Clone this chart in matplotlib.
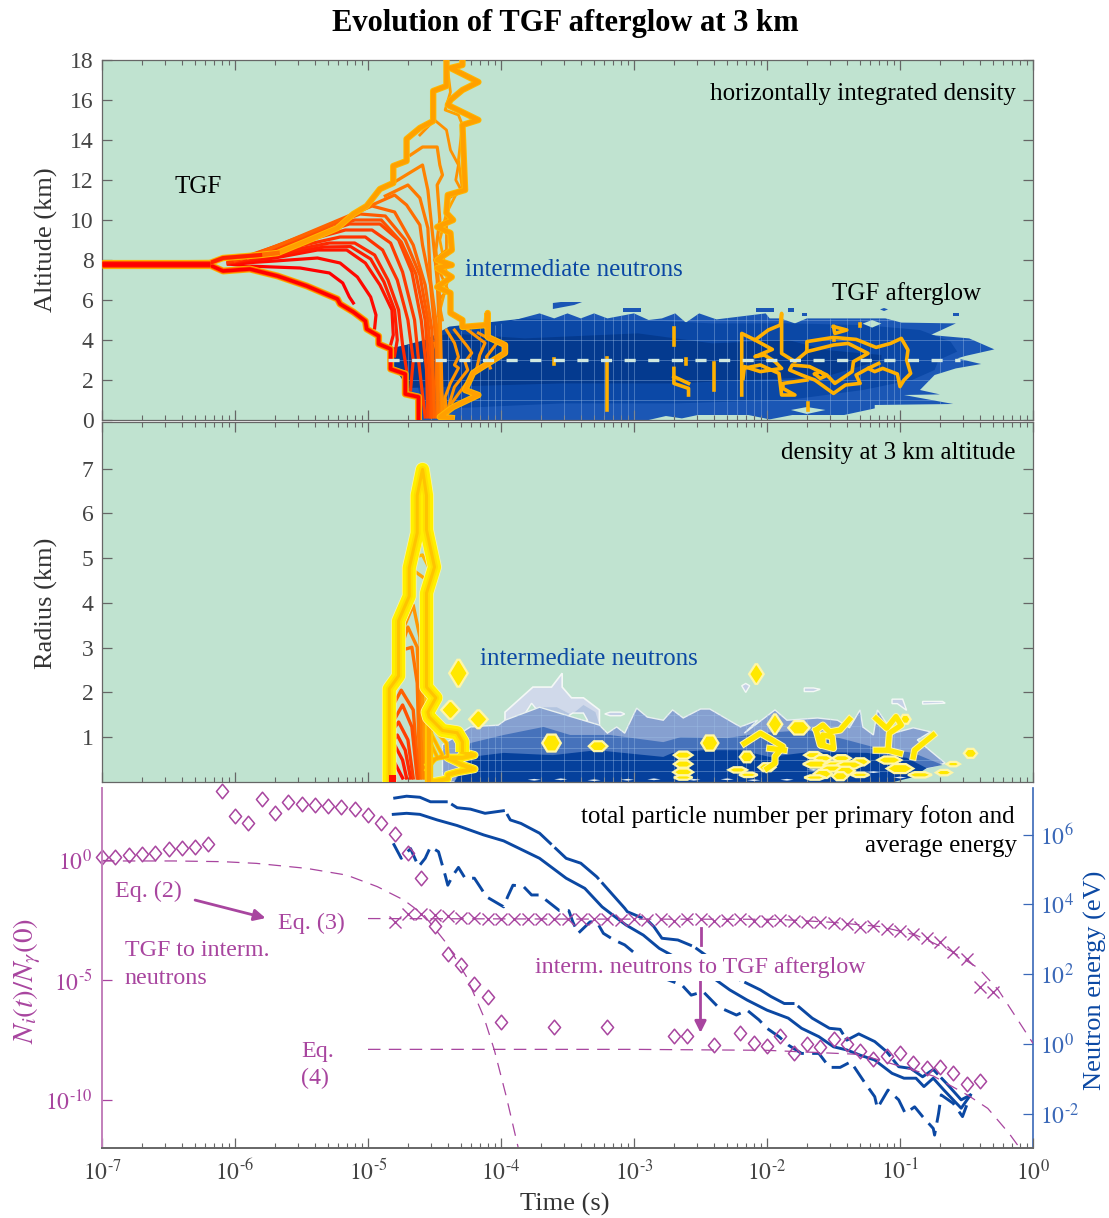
import numpy as np
import matplotlib
matplotlib.use('Agg')
import matplotlib.pyplot as plt
from matplotlib.path import Path
from matplotlib.ticker import LogLocator, NullFormatter, FixedLocator, FixedFormatter

plt.rcParams['font.family'] = ['Liberation Serif', 'DejaVu Serif']
plt.rcParams['mathtext.fontset'] = 'stix'
plt.rcParams['lines.scale_dashes'] = False

# all time values are log10(t / s), energies and numbers in the bottom panel too

# ---- top panel: horizontally integrated density
env_upper = [(-7.0, 7.8), (-6.19, 7.85), (-6.09, 8.1), (-5.81, 8.25), (-5.68, 8.35), (-5.46, 8.95), (-5.23, 9.6),
             (-5.11, 10.3), (-5.01, 10.7), (-4.91, 11.55), (-4.81, 11.85), (-4.81, 12.7), (-4.71, 12.95),
             (-4.71, 14.05), (-4.61, 14.6), (-4.51, 14.95), (-4.51, 16.45), (-4.41, 16.7), (-4.41, 18.0)]
env_right = [(-4.29, 18.0), (-4.29, 17.75), (-4.38, 17.6), (-4.17, 16.9), (-4.29, 16.5), (-4.38, 16.0), (-4.40, 15.75),
             (-4.17, 15.0), (-4.29, 14.75), (-4.27, 11.5), (-4.40, 11.25), (-4.41, 10.35), (-4.36, 10.0), (-4.48, 9.65),
             (-4.38, 9.35), (-4.37, 8.5), (-4.48, 8.0), (-4.37, 7.75), (-4.48, 7.6), (-4.37, 7.15), (-4.48, 6.65),
             (-4.38, 6.35), (-4.38, 5.35), (-4.29, 5.0), (-4.29, 4.65), (-4.11, 4.75), (-4.10, 5.35), (-4.10, 4.15),
             (-3.97, 3.75), (-3.97, 3.35), (-4.14, 2.65), (-4.21, 2.35), (-4.27, 1.5), (-4.17, 1.25), (-4.36, 0.65),
             (-4.46, 0.15), (-4.37, 0.1)]
env_lower = [(-7.0, 7.8), (-6.19, 7.75), (-6.09, 7.45), (-5.89, 7.55), (-5.68, 7.2), (-5.46, 6.7), (-5.23, 6.05),
             (-5.21, 5.8), (-5.11, 5.4), (-5.02, 4.95), (-5.01, 4.55), (-4.92, 4.2), (-4.92, 3.8), (-4.83, 3.55),
             (-4.83, 2.55), (-4.72, 2.3), (-4.72, 1.3), (-4.62, 1.15), (-4.62, 0.0)]
fan_lines = [
    [(-6.05, 7.8), (-5.91, 7.7), (-5.51, 7.6), (-5.29, 7.35), (-5.19, 6.85), (-5.14, 6.15), (-5.11, 5.85)],
    [(-6.05, 7.8), (-5.7, 7.95), (-5.38, 8.1), (-5.21, 7.85), (-5.08, 7.15), (-4.98, 6.15), (-4.94, 5.25), (-4.95, 4.6)],
    [(-6.05, 7.85), (-5.7, 8.1), (-5.38, 8.5), (-5.16, 8.5), (-5.02, 7.85), (-4.91, 6.75), (-4.82, 5.5), (-4.81, 4.25), (-4.83, 3.75)],
    [(-6.05, 7.85), (-5.33, 8.65), (-5.13, 8.67), (-4.98, 8.05), (-4.88, 6.9), (-4.80, 5.5), (-4.78, 4.0), (-4.80, 3.2)],
    [(-6.05, 7.85), (-5.29, 8.85), (-5.10, 8.85), (-4.95, 8.25), (-4.85, 7.0), (-4.77, 5.5), (-4.74, 3.75), (-4.71, 2.5), (-4.72, 1.4)],
    [(-6.05, 7.9), (-5.21, 9.15), (-5.02, 9.15), (-4.89, 8.5), (-4.78, 7.0), (-4.70, 5.0), (-4.66, 3.0), (-4.68, 1.5)],
    [(-6.05, 7.9), (-5.17, 9.5), (-4.97, 9.5), (-4.83, 8.85), (-4.74, 7.4), (-4.65, 5.0), (-4.62, 3.0), (-4.59, 1.25), (-4.57, 0.15)],
    [(-6.0, 7.95), (-5.14, 9.8), (-4.91, 9.8), (-4.77, 9.0), (-4.67, 7.4), (-4.60, 5.0), (-4.56, 2.5), (-4.55, 0.15)],
    [(-6.0, 8.0), (-5.1, 10.0), (-4.9, 10.0), (-4.75, 8.9), (-4.64, 7.3), (-4.57, 5.0), (-4.54, 2.5), (-4.53, 0.15)],
    [(-5.95, 8.05), (-5.06, 10.3), (-4.87, 10.2), (-4.72, 9.0), (-4.61, 7.25), (-4.55, 5.0), (-4.52, 2.5), (-4.52, 0.15)],
    [(-5.9, 8.1), (-4.97, 10.7), (-4.80, 10.4), (-4.66, 8.75), (-4.57, 6.75), (-4.52, 4.5), (-4.50, 0.15)],
    [(-5.02, 10.6), (-4.80, 11.25), (-4.71, 10.75), (-4.61, 9.75), (-4.59, 8.75), (-4.53, 6.75), (-4.49, 4.0), (-4.48, 0.15)],
    [(-4.87, 11.2), (-4.70, 11.75), (-4.61, 11.1), (-4.55, 9.6), (-4.53, 7.0), (-4.48, 4.5), (-4.47, 0.15)],
    [(-4.80, 11.9), (-4.59, 12.75), (-4.55, 11.5), (-4.51, 9.0), (-4.48, 7.0), (-4.46, 4.0), (-4.45, 0.15)],
    [(-4.68, 13.25), (-4.59, 13.65), (-4.48, 13.65), (-4.46, 12.75), (-4.44, 12.25), (-4.48, 11.75), (-4.46, 10.0), (-4.49, 8.5), (-4.46, 6.0), (-4.44, 0.15)],
]
squiggle_a = [(-4.61, 14.25), (-4.50, 15.0), (-4.41, 14.5), (-4.38, 13.5), (-4.32, 12.75), (-4.34, 12.0), (-4.30, 11.5),
              (-4.41, 11.0), (-4.41, 8.5), (-4.50, 8.0), (-4.40, 6.5), (-4.47, 6.0), (-4.44, 5.0)]
squiggle_b = [(-4.41, 18.0), (-4.38, 16.4), (-4.42, 15.5), (-4.32, 15.25), (-4.29, 14.75), (-4.32, 13.0), (-4.29, 11.5),
              (-4.34, 11.25), (-4.41, 10.35), (-4.46, 9.0), (-4.40, 7.0), (-4.47, 5.2)]
right_lines = [
    [(-4.50, 3.85), (-4.46, 3.0), (-4.47, 2.5), (-4.46, 1.85), (-4.42, 0.25)],
    [(-4.41, 4.5), (-4.35, 3.85), (-4.32, 3.15), (-4.35, 2.75), (-4.32, 2.6), (-4.38, 1.85), (-4.42, 1.15), (-4.41, 0.35)],
    [(-4.35, 4.5), (-4.25, 3.65), (-4.22, 3.35), (-4.27, 2.9), (-4.25, 2.5), (-4.35, 1.65), (-4.38, 1.0), (-4.41, 0.25)],
    [(-4.25, 4.5), (-4.12, 3.85), (-4.16, 3.25), (-4.18, 2.65), (-4.20, 2.35), (-4.31, 1.4), (-4.37, 0.85)],
    [(-4.17, 4.35), (-4.03, 3.85), (-4.11, 3.15), (-4.08, 2.6)],
]
blue_outer = [(-4.83, 3.6), (-4.55, 3.95), (-4.35, 4.4), (-4.07, 4.67), (-3.94, 4.92), (-3.71, 5.33), (-3.60, 5.08), (-3.50, 5.33),
              (-3.40, 5.08), (-3.30, 5.33), (-3.20, 5.08), (-3.0, 5.33), (-2.89, 5.0), (-2.79, 5.08), (-2.69, 5.33),
              (-2.61, 4.87), (-2.51, 5.33), (-2.38, 5.03), (-2.01, 5.33), (-1.98, 5.08), (-1.90, 5.08), (-1.79, 4.83),
              (-1.70, 5.08), (-1.56, 5.08), (-1.11, 5.08), (-0.99, 4.87), (-0.58, 4.83), (-0.77, 4.25), (-0.48, 4.08),
              (-0.29, 3.53), (-0.51, 3.2), (-0.57, 3.08), (-0.39, 2.8), (-0.58, 2.58), (-0.74, 2.25), (-0.85, 1.5),
              (-0.70, 1.28), (-0.97, 1.25), (-0.60, 0.8), (-1.19, 0.75), (-1.19, 0.58), (-1.42, 0.25), (-1.81, 0.25),
              (-1.98, 0.03), (-2.14, 0.25), (-2.52, 0.25), (-2.64, 0.08), (-2.76, 0.2), (-2.89, 0.0), (-4.62, 0.0), (-4.62, 1.15),
              (-4.72, 1.3), (-4.72, 2.3), (-4.83, 2.55)]
blue_mid = [(-4.39, 4.67), (-3.82, 5.08), (-3.54, 5.0), (-2.97, 5.0), (-2.41, 4.83), (-1.84, 4.83), (-1.28, 4.75), (-0.85, 4.5),
            (-0.62, 3.92), (-0.57, 3.42), (-0.71, 3.0), (-0.74, 2.5), (-0.91, 2.0), (-1.28, 1.5), (-1.84, 1.0), (-2.69, 0.83),
            (-3.54, 0.83), (-4.39, 0.58), (-4.6, 1.0), (-4.7, 3.5)]
blue_dark = [(-4.39, 4.33), (-3.82, 4.08), (-2.97, 4.33), (-2.41, 3.83), (-1.84, 4.0), (-1.56, 3.5), (-1.14, 3.25), (-1.14, 3.0),
             (-1.56, 2.17), (-2.13, 2.0), (-2.69, 1.83), (-3.54, 1.83), (-4.39, 1.67), (-4.7, 1.6), (-4.8, 2.6), (-4.8, 3.6)]
green_holes = [[(-1.28, 4.82), (-1.21, 5.0), (-1.14, 4.82), (-1.21, 4.62)],
               [(-1.82, 0.5), (-1.70, 0.65), (-1.56, 0.5), (-1.70, 0.3)]]
blue_islands = [[(-3.61, 5.85), (-3.55, 5.9), (-3.39, 5.9), (-3.45, 5.75), (-3.61, 5.55)],
                [(-3.08, 5.6), (-2.95, 5.6), (-2.95, 5.4), (-3.08, 5.4)],
                [(-2.08, 5.6), (-1.95, 5.6), (-1.95, 5.4), (-2.08, 5.4)],
                [(-1.15, 5.53), (-1.12, 5.6), (-1.09, 5.53), (-1.12, 5.45)],
                [(-1.84, 5.6), (-1.80, 5.6), (-1.80, 5.42), (-1.84, 5.42)],
                [(-1.74, 5.35), (-1.70, 5.35), (-1.70, 5.2), (-1.74, 5.2)],
                [(-0.60, 5.35), (-0.56, 5.35), (-0.56, 5.2), (-0.60, 5.2)]]
glow_lines = [
    [(-2.19, 1.25), (-2.19, 4.33), (-2.09, 4.0), (-1.99, 4.5), (-1.90, 4.75), (-1.89, 5.33), (-1.89, 3.33), (-1.79, 2.92), (-1.70, 3.42),
     (-1.70, 3.92), (-1.50, 4.13), (-1.33, 4.03), (-1.18, 3.63), (-1.07, 3.83), (-0.99, 4.08), (-0.94, 3.5), (-0.95, 3.0), (-0.92, 2.33),
     (-0.97, 2.0), (-1.00, 1.67), (-1.02, 2.3), (-1.13, 2.58), (-1.19, 2.42), (-1.24, 2.58), (-1.16, 2.83)],
    [(-1.70, 3.42), (-1.50, 3.75), (-1.39, 3.83), (-1.24, 3.33), (-1.35, 2.92), (-1.36, 2.42), (-1.49, 1.83), (-1.55, 2.25), (-1.68, 2.67),
     (-1.81, 2.75), (-1.83, 2.5), (-1.74, 2.25), (-1.64, 2.0), (-1.50, 1.33), (-1.41, 1.75), (-1.30, 1.83), (-1.33, 2.25), (-1.24, 2.58)],
    [(-2.09, 4.0), (-1.96, 3.53), (-2.09, 3.17), (-2.02, 3.25), (-1.94, 2.92), (-1.89, 2.58), (-2.05, 2.42), (-2.17, 2.67), (-2.18, 2.08)],
    [(-2.18, 2.58), (-2.05, 2.75), (-1.91, 2.33), (-1.89, 1.25), (-1.79, 1.25), (-1.88, 1.58), (-1.88, 1.83), (-1.70, 2.0)],
    [(-1.50, 4.67), (-1.40, 4.5), (-1.49, 4.33), (-1.50, 4.67)],
    [(-1.64, 2.3), (-1.60, 2.42), (-1.56, 2.2), (-1.60, 2.08), (-1.64, 2.3)],
    [(-3.20, 3.08), (-3.20, 0.5)],
    [(-2.70, 4.58), (-2.70, 3.75)],
    [(-3.60, 3.05), (-3.60, 2.8)],
    [(-2.61, 3.05), (-2.61, 2.8)],
    [(-2.70, 2.58), (-2.70, 1.83), (-2.59, 1.58), (-2.59, 1.25)],
    [(-2.70, 2.17), (-2.59, 1.83)],
    [(-2.40, 2.83), (-2.40, 1.5)],
    [(-1.69, 0.83), (-1.69, 0.5)],
    [(-1.30, 4.8), (-1.30, 4.7)],
    [(-1.50, 4.08), (-1.50, 3.98)],
]

# ---- middle panel: density at 3 km altitude
spike_outline = [(-4.84, 0.0), (-4.84, 2.08), (-4.77, 2.37), (-4.77, 3.6), (-4.69, 4.15), (-4.69, 4.78), (-4.63, 5.56), (-4.63, 6.4),
                 (-4.59, 6.98), (-4.56, 6.4), (-4.56, 5.63), (-4.50, 4.80), (-4.56, 4.22), (-4.56, 2.12), (-4.49, 1.88), (-4.55, 1.56),
                 (-4.54, 1.45), (-4.44, 1.15), (-4.33, 1.1), (-4.29, 0.9), (-4.29, 0.67)]
spike_tail = [(-4.29, 0.67), (-4.20, 0.60), (-4.29, 0.54), (-4.40, 0.54), (-4.29, 0.38), (-4.20, 0.29), (-4.33, 0.22), (-4.40, 0.16),
              (-4.40, 0.07), (-4.53, 0.0)]
spike_right_band = [(-4.54, 2.1), (-4.54, 0.0)]
spike_arcs = [
    [(-4.72, 4.17), (-4.66, 4.84), (-4.59, 5.44), (-4.53, 4.84), (-4.59, 4.22), (-4.59, 3.46), (-4.59, 2.05), (-4.56, 0.09)],
    [(-4.66, 5.02), (-4.59, 5.07), (-4.55, 4.84)],
    [(-4.66, 4.73), (-4.59, 4.58)],
    [(-4.74, 2.5), (-4.74, 3.39), (-4.66, 3.95), (-4.61, 3.24), (-4.59, 2.05), (-4.57, 0.09)],
    [(-4.74, 3.10), (-4.70, 3.46), (-4.63, 3.01), (-4.61, 1.83), (-4.59, 0.09)],
    [(-4.74, 2.95), (-4.67, 3.01), (-4.63, 2.21), (-4.61, 0.09)],
    [(-4.85, 0.09), (-4.83, 1.61), (-4.75, 2.05), (-4.66, 1.61), (-4.62, 0.09)],
    [(-4.84, 0.09), (-4.82, 1.3), (-4.74, 1.72), (-4.67, 1.23), (-4.63, 0.09)],
    [(-4.82, 0.09), (-4.83, 1.09), (-4.77, 1.34), (-4.70, 0.94), (-4.66, 0.09)],
    [(-4.81, 0.09), (-4.82, 0.87), (-4.78, 1.05), (-4.72, 0.71), (-4.68, 0.09)],
    [(-4.81, 0.09), (-4.80, 0.83), (-4.74, 0.49), (-4.71, 0.09)],
    [(-4.80, 0.09), (-4.81, 0.49), (-4.74, 0.09)],
]
spike_fingers = [[(-4.52, 1.23), (-4.41, 0.87), (-4.40, 0.56), (-4.55, 0.49)],
                 [(-4.52, 1.05), (-4.47, 0.76), (-4.44, 0.6), (-4.56, 0.38)],
                 [(-4.53, 0.87), (-4.48, 0.56), (-4.56, 0.27)]]
layer_c = [(-4.44, 0.0), (-4.44, 0.83), (-4.23, 1.23), (-4.02, 1.27), (-3.97, 1.38), (-3.71, 1.67), (-3.26, 1.27), (-3.20, 1.09), (-3.13, 1.23),
           (-3.07, 1.09), (-2.98, 1.65), (-2.90, 1.45), (-2.78, 1.38), (-2.71, 1.61), (-2.63, 1.43), (-2.50, 1.63), (-2.43, 1.63),
           (-2.20, 1.23), (-2.07, 1.38), (-2.17, 1.09), (-1.94, 1.61), (-1.85, 1.38), (-1.62, 1.43), (-1.47, 1.38), (-1.38, 1.21),
           (-1.30, 1.61), (-1.28, 1.23), (-1.20, 1.05), (-1.17, 1.61), (-1.05, 1.09), (-0.90, 1.21), (-0.77, 1.12), (-0.87, 0.94),
           (-0.66, 0.42), (-0.80, 0.31), (-1.05, 0.09), (-1.05, 0.0)]
layer_a = [(-3.97, 1.38), (-3.97, 1.56), (-3.76, 2.12), (-3.62, 2.12), (-3.54, 2.43), (-3.54, 2.12), (-3.47, 1.88), (-3.38, 1.88), (-3.26, 1.61),
           (-3.26, 1.27), (-3.4, 1.3), (-3.7, 1.3)]
layer_b = [(-3.97, 1.38), (-3.71, 1.67), (-3.58, 1.67), (-3.47, 1.5), (-3.38, 1.72), (-3.29, 1.56), (-3.26, 1.27), (-3.7, 1.2)]
layer_d = [(-4.35, 0.0), (-4.23, 0.87), (-3.98, 1.05), (-3.68, 1.23), (-3.48, 1.05), (-3.18, 1.05), (-2.78, 0.89), (-2.65, 1.0), (-2.30, 0.98),
           (-2.05, 1.09), (-1.70, 1.16), (-1.40, 0.94), (-1.20, 0.78), (-0.90, 0.65), (-0.68, 0.38), (-0.80, 0.31), (-1.05, 0.09), (-1.05, 0.0)]
layer_e = [(-4.35, 0.0), (-4.23, 0.56), (-3.98, 0.65), (-3.61, 0.60), (-3.28, 0.71), (-2.78, 0.56), (-2.71, 0.65), (-2.48, 0.71), (-2.20, 0.71),
           (-1.98, 0.56), (-1.68, 0.67), (-1.25, 0.65), (-0.95, 0.54), (-0.80, 0.31), (-0.90, 0.11), (-1.05, 0.0)]
layer_holes = [[(-3.87, 1.29), (-3.77, 1.76), (-3.71, 1.54), (-3.80, 1.27)],
               [(-3.52, 1.43), (-3.46, 1.54), (-3.38, 1.54), (-3.35, 1.38), (-3.41, 1.27), (-3.48, 1.27)]]
layer_islands = [[(-3.22, 1.52), (-3.18, 1.48), (-3.10, 1.48), (-3.07, 1.52), (-3.10, 1.56), (-3.18, 1.56)],
                 [(-2.19, 2.15), (-2.16, 2.2), (-2.13, 2.15), (-2.16, 2.0)],
                 [(-1.72, 2.1), (-1.65, 2.1), (-1.60, 2.07), (-1.65, 2.02), (-1.72, 2.02)],
                 [(-1.06, 1.85), (-0.98, 1.85), (-0.95, 1.6), (-1.02, 1.75), (-1.06, 1.75)],
                 [(-0.83, 1.8), (-0.68, 1.8), (-0.66, 1.76), (-0.83, 1.74)]]
streak_t = [-3.75, -3.55, -3.3, -3.05, -2.85, -2.55, -2.3, -2.1, -1.85, -1.65, -1.2, -1.0, -0.85]
streak_r = [0.05, 0.06, 0.04, 0.05, 0.06, 0.05, 0.06, 0.04, 0.05, 0.27, 0.22, 0.1, 0.18]
blob_t = [-4.32, -4.38, -4.17, -3.62, -3.27, -2.08, -2.43, -2.63, -2.63, -2.63, -2.63, -2.22, -2.14, -2.15, -2.0, -1.94, -1.76,
          -1.65, -1.58, -1.44, -1.30, -1.63, -1.48, -1.38, -1.51, -1.41, -1.45, -1.58, -1.64, -1.08, -1.0, -0.85, -0.67, -0.60,
          -0.47, -1.30, -0.96]
blob_r = [2.43, 1.61, 1.40, 0.87, 0.80, 2.41, 0.87, 0.60, 0.40, 0.22, 0.10, 0.27, 0.16, 0.56, 0.33, 1.29, 1.21,
          0.60, 0.53, 0.53, 0.45, 0.40, 0.38, 0.38, 0.30, 0.25, 0.13, 0.18, 0.10, 0.49, 0.30, 0.16, 0.21, 0.40,
          0.64, 0.16, 1.4]
blob_dt = [0.07, 0.07, 0.07, 0.07, 0.07, 0.055, 0.065, 0.07, 0.07, 0.075, 0.07, 0.07, 0.07, 0.055, 0.065, 0.055, 0.08,
           0.07, 0.07, 0.07, 0.07, 0.10, 0.10, 0.10, 0.09, 0.07, 0.06, 0.07, 0.08, 0.09, 0.10, 0.09, 0.06, 0.05,
           0.05, 0.07, 0.04]
blob_dr = [0.30, 0.20, 0.20, 0.19, 0.11, 0.22, 0.17, 0.08, 0.08, 0.08, 0.05, 0.06, 0.05, 0.12, 0.09, 0.22, 0.15,
           0.07, 0.07, 0.07, 0.08, 0.08, 0.08, 0.08, 0.07, 0.09, 0.09, 0.09, 0.05, 0.08, 0.10, 0.06, 0.06, 0.05,
           0.10, 0.05, 0.1]
yellow_paths = [
    [(-2.17, 0.86), (-2.05, 1.09), (-1.98, 0.97), (-1.88, 0.79), (-1.94, 0.57), (-1.94, 0.42), (-2.0, 0.30)],
    [(-1.98, 0.75), (-1.87, 0.71)],
    [(-1.63, 1.16), (-1.58, 1.27), (-1.53, 1.12), (-1.45, 1.16), (-1.38, 1.40)],
    [(-1.63, 1.16), (-1.60, 0.83), (-1.50, 0.75), (-1.51, 1.01), (-1.58, 1.05), (-1.58, 0.83)],
    [(-1.18, 1.42), (-1.10, 1.2), (-1.03, 1.46), (-0.99, 1.27), (-1.08, 1.09), (-1.09, 0.71), (-1.18, 0.71)],
    [(-1.09, 0.71), (-1.0, 0.64)],
    [(-0.75, 1.05), (-0.89, 0.71), (-0.90, 0.56)],
]

# ---- bottom panel: particle number and neutron energy
diamond_t = [-7.0, -6.9, -6.8, -6.7, -6.6, -6.5, -6.4, -6.3, -6.2, -6.1, -6.0, -5.9, -5.8, -5.7, -5.6, -5.5, -5.4, -5.3, -5.2, -5.1,
             -5.0, -4.9, -4.8, -4.7, -4.6, -4.5, -4.4, -4.3, -4.2, -4.1, -4.0, -3.6, -3.2, -2.7, -2.6, -2.4, -2.2, -2.1, -2.0, -1.9,
             -1.8, -1.7, -1.6, -1.5, -1.4, -1.3, -1.2, -1.1, -1.0, -0.9, -0.8, -0.7, -0.6, -0.5, -0.4]
diamond_n = [0.11, 0.11, 0.19, 0.25, 0.31, 0.44, 0.49, 0.56, 0.65, 2.88, 1.83, 1.53, 2.54, 1.94, 2.42, 2.35, 2.29, 2.25, 2.22, 2.11,
             1.89, 1.53, 1.07, 0.31, -0.75, -2.75, -3.92, -4.39, -5.15, -5.69, -6.75, -6.97, -6.97, -7.33, -7.33, -7.69, -7.19, -7.64,
             -7.75, -7.33, -8.03, -7.67, -7.81, -7.46, -7.67, -7.96, -8.31, -8.15, -8.03, -8.47, -8.65, -8.61, -8.86, -9.33, -9.20]
cross_t = [-4.8, -4.7, -4.6, -4.5, -4.4, -4.3, -4.2, -4.1, -4.0, -3.9, -3.8, -3.7, -3.6, -3.5, -3.4, -3.3, -3.2, -3.1, -3.0, -2.9, -2.8,
           -2.7, -2.6, -2.5, -2.4, -2.3, -2.2, -2.1, -2.0, -1.9, -1.8, -1.7, -1.6, -1.5, -1.4, -1.3, -1.2, -1.1, -1.0, -0.9, -0.8, -0.7,
           -0.6, -0.5, -0.4, -0.3]
cross_n = [-2.57, -2.26, -2.26, -2.29, -2.33, -2.40, -2.40, -2.46, -2.46, -2.46, -2.46, -2.46, -2.46, -2.46, -2.46, -2.46, -2.46, -2.50,
           -2.46, -2.50, -2.46, -2.53, -2.46, -2.46, -2.53, -2.50, -2.46, -2.53, -2.53, -2.50, -2.53, -2.57, -2.57, -2.61, -2.68, -2.81,
           -2.74, -2.88, -2.96, -3.10, -3.25, -3.43, -3.85, -4.14, -5.28, -5.49]
eq2_curve = [(-7.0, -0.04), (-6.46, -0.04), (-6.09, -0.07), (-5.84, -0.14), (-5.46, -0.35), (-5.16, -0.63), (-4.93, -1.11), (-4.73, -1.67),
             (-4.58, -2.29), (-4.41, -3.47), (-4.26, -4.86), (-4.13, -6.53), (-4.05, -7.92), (-3.96, -9.86), (-3.87, -12.0)]
eq3_curve = [(-5.0, -2.44), (-3.5, -2.46), (-1.92, -2.47), (-1.50, -2.6), (-1.14, -2.78), (-0.88, -3.13), (-0.62, -3.78), (-0.41, -4.51),
             (-0.26, -5.42), (-0.13, -6.53), (0.0, -7.64)]
eq4_curve = [(-5.0, -7.89), (-3.0, -7.89), (-2.0, -7.93), (-1.3, -8.1), (-0.75, -9.0), (-0.49, -9.8), (-0.34, -10.35), (-0.18, -11.39), (-0.10, -12.0)]
energy_upper = [(-4.81, 7.04), (-4.71, 7.10), (-4.61, 7.07), (-4.53, 6.94), (-4.40, 6.94), (-4.33, 6.77), (-4.23, 6.73), (-4.12, 6.61),
                (-3.97, 6.69), (-3.93, 6.42), (-3.85, 6.32), (-3.71, 6.04), (-3.51, 5.32), (-3.40, 5.18), (-3.28, 4.79), (-3.07, 3.89),
                (-3.05, 3.79), (-2.90, 3.55), (-2.85, 3.36), (-2.79, 3.03), (-2.67, 2.98), (-2.55, 2.79), (-2.20, 1.83), (-2.05, 1.55),
                (-1.97, 1.36), (-1.87, 1.16), (-1.79, 1.16), (-1.66, 0.74), (-1.53, 0.45), (-1.45, 0.42), (-1.40, 0.11), (-1.31, 0.29),
                (-1.19, 0.07), (-1.10, -0.22), (-1.01, -0.65), (-0.92, -0.70), (-0.83, -0.94), (-0.75, -0.73), (-0.65, -1.13),
                (-0.54, -1.60), (-0.47, -1.46)]
energy_mean = [(-4.81, 6.58), (-4.71, 6.61), (-4.61, 6.58), (-4.48, 6.42), (-4.33, 6.26), (-4.13, 5.99), (-3.98, 5.82), (-3.71, 5.32),
               (-3.51, 4.75), (-3.37, 4.46), (-3.24, 3.93), (-3.11, 3.55), (-3.06, 3.41), (-2.93, 3.12), (-2.81, 2.74), (-2.40, 1.88),
               (-2.28, 1.55), (-2.15, 1.26), (-2.0, 0.97), (-1.84, 0.74), (-1.74, 0.45), (-1.61, 0.21), (-1.50, -0.08), (-1.40, -0.17),
               (-1.30, -0.32), (-1.19, -0.46), (-1.06, -0.84), (-0.97, -0.98), (-0.88, -0.98), (-0.82, -1.22), (-0.75, -0.98),
               (-0.67, -1.32), (-0.54, -1.84), (-0.47, -1.46)]
energy_lower = [(-4.81, 5.75), (-4.75, 5.32), (-4.68, 5.60), (-4.62, 5.08), (-4.57, 5.32), (-4.53, 5.65), (-4.47, 5.51), (-4.42, 4.84),
                (-4.40, 4.55), (-4.36, 4.84), (-4.32, 5.06), (-4.27, 4.75), (-4.20, 4.75), (-4.15, 4.46), (-4.11, 4.22), (-3.98, 3.93),
                (-3.95, 4.22), (-3.91, 4.55), (-3.83, 4.51), (-3.77, 4.27), (-3.71, 4.27), (-3.56, 3.82), (-3.49, 3.82), (-3.46, 3.50),
                (-3.42, 3.17), (-3.33, 3.50), (-3.28, 3.50), (-3.23, 3.17), (-3.15, 2.98), (-3.07, 2.84), (-2.76, 1.86), (-2.64, 1.69),
                (-2.57, 1.40), (-2.48, 1.50), (-2.37, 1.07), (-2.23, 0.83), (-2.15, 0.97), (-2.06, 0.69), (-2.0, 0.45), (-1.91, 0.21),
                (-1.84, -0.03), (-1.74, -0.27), (-1.61, -0.27), (-1.53, -0.67), (-1.45, -0.67), (-1.37, -0.51), (-1.27, -1.08),
                (-1.19, -1.51), (-1.17, -1.84), (-1.09, -1.32), (-1.01, -1.60), (-0.96, -1.99), (-0.89, -1.80), (-0.83, -2.08),
                (-0.75, -2.42), (-0.74, -2.61), (-0.71, -1.99), (-0.69, -1.46), (-0.60, -1.70), (-0.53, -2.08), (-0.47, -1.46)]

time_ticks = [1e-7, 1e-6, 1e-5, 1e-4, 1e-3, 1e-2, 1e-1, 1e0]
time_labels = [r'$10^{\text{-}7}$', r'$10^{\text{-}6}$', r'$10^{\text{-}5}$', r'$10^{\text{-}4}$', r'$10^{\text{-}3}$',
               r'$10^{\text{-}2}$', r'$10^{\text{-}1}$', '$10^{0}$']
alt_ticks = [0, 2, 4, 6, 8, 10, 12, 14, 16, 18]
radius_ticks = [1, 2, 3, 4, 5, 6, 7]

BG = '#c0e3d0'
MAG = '#a8459f'
BLUE = '#0b48a3'
TICKBLUE = '#3a68b8'
GREY = '#666666'
W, H = 1109.0, 1218.0


def xy(points):
    a = np.array(points, dtype=float)
    return 10 ** a[:, 0], a[:, 1]


def line(ax, points, **kw):
    x, y = xy(points)
    kw.setdefault('solid_joinstyle', 'round')
    return ax.plot(x, y, **kw)


def fill(ax, points, color, **kw):
    x, y = xy(points)
    return ax.fill(x, y, color=color, lw=kw.pop('lw', 0), **kw)[0]


def panel_axes(top, bottom):
    ax = fig.add_axes([102 / W, 1 - bottom / H, 931 / W, (bottom - top) / H])
    ax.set_xscale('log')
    ax.set_xlim(1e-7, 1)
    ax.xaxis.set_major_locator(FixedLocator(time_ticks))
    ax.xaxis.set_minor_locator(LogLocator(base=10, subs=np.arange(2, 10), numticks=12))
    ax.xaxis.set_minor_formatter(NullFormatter())
    ax.tick_params(axis='x', which='major', direction='in', length=7.5, width=0.9, color=GREY)
    ax.tick_params(axis='x', which='minor', direction='in', length=3.8, width=0.8, color=GREY)
    ax.tick_params(axis='y', which='major', direction='in', length=7.5, width=0.9, color=GREY,
                   labelcolor='#444444', labelsize=17, pad=6)
    for s in ax.spines.values():
        s.set_color(GREY)
        s.set_linewidth(0.9)
    return ax


def grid_over(ax, patch, y_step, y_max):
    decades = np.arange(-5, 0)
    for d in decades:
        for m in range(1, 10):
            v = ax.axvline(m * 10.0 ** d, color='#9fc0e6', lw=0.6, alpha=0.45, zorder=2)
            v.set_clip_path(patch)
    for y in np.arange(y_step, y_max, y_step):
        h = ax.axhline(y, color='#9fc0e6', lw=0.6, alpha=0.45, zorder=2)
        h.set_clip_path(patch)


fig = plt.figure(figsize=(W / 100, H / 100), dpi=100)
fig.text(565 / W, 1 - 23 / H, 'Evolution of TGF afterglow at 3 km', ha='center', va='center',
         fontsize=22, fontweight='bold', color='black')

# top panel
ax1 = panel_axes(60, 420)
ax1.set_facecolor(BG)
ax1.set_ylim(0, 18)
ax1.set_yticks(alt_ticks)
ax1.tick_params(axis='both', which='both', top=True, right=True, labelbottom=False)

p_outer = fill(ax1, blue_outer, '#1b57b5', zorder=1)
fill(ax1, blue_mid, '#0b48a6', zorder=1.1)
fill(ax1, blue_dark, '#043a8f', zorder=1.2)
for hole in green_holes:
    fill(ax1, hole, BG, zorder=1.3)
for island in blue_islands:
    fill(ax1, island, '#1b57b5', zorder=1.3)
grid_over(ax1, p_outer, 1.0, 6)

for pts in glow_lines:
    line(ax1, pts, color='#ffb000', lw=2.6, zorder=3)
ax1.plot(10.0 ** np.array([-4.85, -0.55]), [3, 3], color='#d0e8e0', lw=2.4, dashes=(8, 9), zorder=6)

n_fan = len(fan_lines)
for i, pts in enumerate(fan_lines):
    g = int(140 * i / (n_fan - 1))
    line(ax1, pts, color='#ff%02x00' % g, lw=2.3, zorder=4 + i * 0.01)
line(ax1, squiggle_a, color='#ff9000', lw=2.0, zorder=4)
line(ax1, squiggle_b, color='#ffa000', lw=2.0, zorder=4)
for pts in right_lines:
    line(ax1, pts, color='#ff9400', lw=2.2, zorder=4)
for w, c in [(4.6, '#ffb800'), (3.2, '#ffa000')]:
    line(ax1, env_upper, color=c, lw=w, zorder=5)
    line(ax1, env_right, color=c, lw=w, zorder=5)
for w, c in [(5.0, '#ffb000'), (3.8, '#ff6a00'), (2.6, '#ff0000')]:
    line(ax1, env_lower, color=c, lw=w, zorder=5)
line(ax1, env_upper[:5], color='#ff7000', lw=3.2, zorder=5)
line(ax1, env_upper[:4], color='#ff2000', lw=2.8, zorder=5.1)
ax1.plot([1e-7, 10 ** -6.19], [7.8, 7.8], color='#ffb000', lw=6.6, solid_capstyle='butt', zorder=5.2)
ax1.plot([1e-7, 10 ** -6.19], [7.8, 7.8], color='#ff5000', lw=5, solid_capstyle='butt', zorder=5.3)
ax1.plot([1e-7, 10 ** -6.19], [7.8, 7.8], color='#ff0000', lw=3.4, solid_capstyle='butt', zorder=5.4)

ax1.text(10 ** -6.28, 11.65, 'TGF', fontsize=18, ha='center', va='center', zorder=7)
ax1.text(10 ** -0.13, 16.3, 'horizontally integrated density', fontsize=18, ha='right', va='center', zorder=7)
ax1.text(10 ** -4.27, 7.5, 'intermediate neutrons', fontsize=18, color=BLUE, ha='left', va='center', zorder=7)
ax1.text(10 ** -0.95, 6.3, 'TGF afterglow', fontsize=18, ha='center', va='center', zorder=7)

# middle panel
ax2 = panel_axes(422, 782)
ax2.set_facecolor(BG)
ax2.set_ylim(0, 8.04)
ax2.set_yticks(radius_ticks)
ax2.tick_params(axis='both', which='both', top=True, right=True, labelbottom=False)

p_c = fill(ax2, layer_c, '#86a0d0', zorder=1.1, lw=1, edgecolor='#e8f0f0')
fill(ax2, layer_a, '#d0d9ea', zorder=1.0, lw=1.2, edgecolor='#f4f8f6')
fill(ax2, layer_b, '#b4c5e0', zorder=1.05)
for hole in layer_holes:
    fill(ax2, hole, BG, zorder=1.06, lw=1, edgecolor='#f4f8f6')
for island in layer_islands:
    fill(ax2, island, '#c5d0e6', zorder=1.0, lw=1, edgecolor='#f4f8f6')
fill(ax2, layer_d, '#4672bb', zorder=1.2)
fill(ax2, layer_e, '#05409c', zorder=1.3)
grid_over(ax2, p_c, 0.25, 2)
for t, r in zip(streak_t, streak_r):
    ax2.fill(10 ** (t + np.array([-0.05, 0, 0.05, 0])), r + np.array([0, 0.02, 0, -0.02]), color='#dfeaf0', lw=0, zorder=2.5)

for t, r, dt, dr in zip(blob_t, blob_r, blob_dt, blob_dr):
    flat = 0.12 if dr >= 0.2 else 0.45
    bx = t + dt * np.array([-1, -flat, flat, 1, flat, -flat])
    by = r + dr * np.array([0, 1, 1, 0, -1, -1])
    ax2.fill(10 ** bx, by, facecolor='#ffe800', edgecolor='#fff6a8', lw=1.6, zorder=3)
for pts in yellow_paths:
    line(ax2, pts, color='#fff6a8', lw=5.2, zorder=3)
    line(ax2, pts, color='#ffe800', lw=3.8, zorder=3.1)

n_arc = len(spike_arcs)
for i, pts in enumerate(spike_arcs):
    g = 200 - int(190 * i / (n_arc - 1))
    line(ax2, pts, color='#ff%02x00' % g, lw=2.4, zorder=4 + i * 0.01)
for w, c in [(6.0, '#fff2a0'), (5.0, '#ffe800'), (3.0, '#ffc800')]:
    line(ax2, spike_tail, color=c, lw=w, zorder=4.5)
for pts in spike_fingers:
    line(ax2, pts, color='#ffd800', lw=3.0, zorder=4.6)
    line(ax2, pts, color='#ffb000', lw=1.8, zorder=4.7)
line(ax2, spike_right_band, color='#ffc800', lw=6, zorder=4.8)
line(ax2, spike_right_band, color='#ffa800', lw=3, zorder=4.9)
for w, c in [(10.5, '#fff6a8'), (9.5, '#fff000'), (5.0, '#ffe000'), (2.2, '#ffc400')]:
    line(ax2, spike_outline, color=c, lw=w, zorder=5, solid_capstyle='butt')
ax2.fill(10.0 ** np.array([-4.84, -4.84, -4.79, -4.79]), [0, 0.16, 0.16, 0], color='#ff1000', lw=0, zorder=6)

ax2.text(10 ** -0.13, 7.34, 'density at 3 km altitude', fontsize=18, ha='right', va='center', zorder=7)
ax2.text(10 ** -4.16, 2.74, 'intermediate neutrons', fontsize=18, color=BLUE, ha='left', va='center', zorder=7)

# bottom panel
ax3 = panel_axes(788, 1148)
ax3.set_yscale('log')
ax3.set_ylim(1e-12, 1e3)
ax3.yaxis.set_major_locator(FixedLocator([1e-10, 1e-5, 1e0]))
ax3.yaxis.set_major_formatter(FixedFormatter([r'$10^{\text{-}10}$', r'$10^{\text{-}5}$', '$10^{0}$']))
ax3.yaxis.set_minor_locator(FixedLocator([]))
ax3.xaxis.set_major_formatter(FixedFormatter(time_labels))
ax3.tick_params(axis='x', which='major', labelsize=17, labelcolor='#444444', pad=8)
ax3.tick_params(axis='y', which='major', color=MAG, labelcolor=MAG, labelsize=17, pad=7)
ax3.spines['top'].set_visible(False)
ax3.spines['right'].set_visible(False)
ax3.spines['left'].set_color('#c27fbb')
ax3.spines['left'].set_linewidth(1.4)
ax3.spines['bottom'].set_linewidth(1.4)

ax4 = ax3.twinx()
ax4.set_yscale('log')
ax4.set_ylim(10 ** -2.98, 10 ** 7.335)
ax4.yaxis.set_major_locator(FixedLocator([1e-2, 1e0, 1e2, 1e4, 1e6]))
ax4.yaxis.set_major_formatter(FixedFormatter([r'$10^{\text{-}2}$', '$10^{0}$', '$10^{2}$', '$10^{4}$', '$10^{6}$']))
ax4.yaxis.set_minor_locator(FixedLocator([]))
ax4.tick_params(axis='y', which='major', direction='in', length=7.5, width=0.9, color=TICKBLUE,
                labelcolor=TICKBLUE, labelsize=17, pad=5)
for s in ['top', 'left', 'bottom']:
    ax4.spines[s].set_visible(False)
ax4.spines['right'].set_color(TICKBLUE)
ax4.spines['right'].set_linewidth(1.2)
ax3.set_zorder(ax4.get_zorder() + 1)
ax3.patch.set_visible(False)

ex, ey = xy(energy_upper)
ax4.plot(ex, 10 ** ey, color=BLUE, lw=2.1, dashes=(40, 3))
ex, ey = xy(energy_mean)
ax4.plot(ex, 10 ** ey, color=BLUE, lw=2.1)
ex, ey = xy(energy_lower)
ax4.plot(ex, 10 ** ey, color=BLUE, lw=2.1, dashes=(13, 6))

for curve in [eq2_curve, eq3_curve, eq4_curve]:
    cx, cy = xy(curve)
    ax3.plot(cx, 10 ** cy, color=MAG, lw=0.9, dashes=(9, 6))
diamond = Path([(-1, 0), (0, 1.2), (1, 0), (0, -1.2), (-1, 0)], closed=True)
ax3.plot(10.0 ** np.array(diamond_t), 10.0 ** np.array(diamond_n), ls='none', marker=diamond,
         ms=10.5, mfc='none', mec=MAG, mew=1.1, clip_on=False)
ax3.plot(10.0 ** np.array(cross_t), 10.0 ** np.array(cross_n), ls='none', marker='x', ms=8.5, mec=MAG, mew=1.0)

ax3.annotate('', xy=(10 ** -5.77, 10 ** -2.42), xytext=(10 ** -6.30, 10 ** -1.67),
             arrowprops=dict(arrowstyle='-|>', color=MAG, lw=2, mutation_scale=17, shrinkA=0, shrinkB=0))
ax3.plot([10 ** -2.5, 10 ** -2.5], [10 ** -2.83, 10 ** -3.54], color=MAG, lw=2)
ax3.annotate('', xy=(10 ** -2.5, 10 ** -7.2), xytext=(10 ** -2.5, 10 ** -4.92),
             arrowprops=dict(arrowstyle='-|>', color=MAG, lw=2, mutation_scale=17, shrinkA=0, shrinkB=0))

mag_text = dict(fontsize=17.3, color=MAG, va='center')
ax3.text(10 ** -6.90, 10 ** -1.3, 'Eq. (2)', ha='left', **mag_text)
ax3.text(10 ** -5.68, 10 ** -2.63, 'Eq. (3)', ha='left', **mag_text)
ax3.text(10 ** -6.83, 10 ** -3.76, 'TGF to interm.', ha='left', **mag_text)
ax3.text(10 ** -6.83, 10 ** -4.93, 'neutrons', ha='left', **mag_text)
ax3.text(10 ** -5.50, 10 ** -7.97, 'Eq.', ha='left', **mag_text)
ax3.text(10 ** -5.50, 10 ** -9.09, '(4)', ha='left', **mag_text)
ax3.text(10 ** -2.5, 10 ** -4.47, 'interm. neutrons to TGF afterglow', ha='center',
         bbox=dict(facecolor='white', edgecolor='none', pad=2), **mag_text)
ax3.text(10 ** -0.14, 10 ** 1.83, 'total particle number per primary foton and', fontsize=18, ha='right', va='center')
ax3.text(10 ** -0.12, 10 ** 0.58, 'average energy', fontsize=18, ha='right', va='center')

fig.text(46 / W, 1 - 240 / H, 'Altitude (km)', rotation=90, fontsize=19, color='#333333', ha='center', va='center')
fig.text(46 / W, 1 - 603 / H, 'Radius (km)', rotation=90, fontsize=19, color='#333333', ha='center', va='center')
fig.text(27 / W, 1 - 981 / H, r'$N_i(t)/N_\gamma(0)$', rotation=90, fontsize=21, color=MAG, ha='center', va='center')
fig.text(1095 / W, 1 - 980 / H, 'Neutron energy (eV)', rotation=90, fontsize=19, color=BLUE, ha='center', va='center')
fig.text(565 / W, 1 - 1204 / H, 'Time (s)', fontsize=19, color='#333333', ha='center', va='center')

fig.savefig('out.png', dpi=100)
